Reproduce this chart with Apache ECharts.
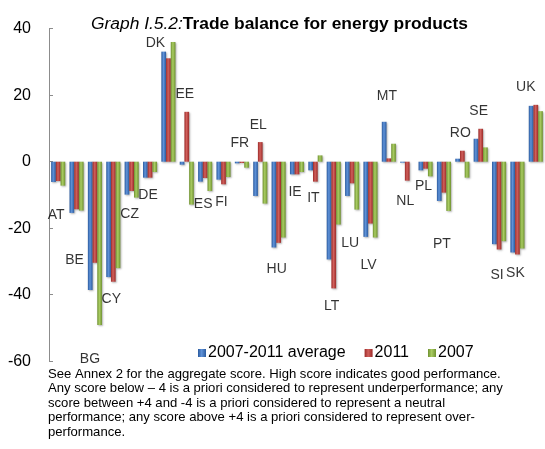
<!DOCTYPE html>
<html>
<head>
<meta charset="UTF-8">
<title>Trade balance for energy products</title>
<script src="https://cdn.jsdelivr.net/npm/echarts@6/dist/echarts.min.js"></script>
<style>
  html, body { margin: 0; padding: 0; background: #fff; }
  #chart { width: 545px; height: 449px; }
</style>
</head>
<body>
<div id="chart"></div>
<script>
// 国家 / country codes
const countries = ['AT', 'BE', 'BG', 'CY', 'CZ', 'DE', 'DK', 'EE', 'ES', 'FI', 'FR', 'EL', 'HU', 'IE',
  'IT', 'LT', 'LU', 'LV', 'MT', 'NL', 'PL', 'PT', 'RO', 'SE', 'SI', 'SK', 'UK'];

// series values
const avg0711 = [-6.1, -15.4, -38.6, -34.7, -9.9, -4.8, 33.1, -0.9, -6.0, -5.4, -0.5, -10.3, -25.8, -3.8,
  -2.6, -29.4, -10.3, -22.6, 12.0, -0.3, -2.6, -11.8, 0.9, 6.9, -24.8, -27.3, 16.8];
const y2011 = [-5.8, -14.3, -30.4, -36.1, -8.8, -4.8, 31.1, 15.0, -4.9, -6.8, -0.4, 5.9, -24.4, -3.8,
  -6.0, -38.1, -6.5, -18.6, 1.0, -5.7, -2.1, -9.3, 3.3, 9.9, -26.4, -27.9, 17.1];
const y2007 = [-7.2, -14.7, -49.1, -32.0, -10.8, -3.1, 36.0, -12.9, -8.8, -4.6, -1.8, -12.6, -22.8, -3.1,
  1.9, -18.9, -14.4, -22.8, 5.4, 0, -4.4, -14.8, -4.8, 4.3, -23.9, -26.1, 15.2];

// where each country label sits (value units on the y axis)
const labelAt = [-16.0, -29.6, -59.3, -41.3, -15.7, -10.2, 35.6, 20.4, -12.8, -12.3, 5.5, 11.0, -32.4, -9.3,
  -11.0, -43.4, -24.4, -31.1, 19.8, -12.0, -7.3, -24.8, 8.5, 15.2, -34.1, -33.4, 22.4];

const yTicks = [-60, -40, -20, 0, 20, 40];

const seriesNames = ['2007-2011 average', '2011', '2007'];

const note = [
  'See Annex 2 for the aggregate score. High score indicates good performance.',
  'Any score below \u2013 4 is a priori considered to represent underperformance; any',
  'score between +4 and -4 is a priori considered to represent a neutral',
  'performance; any score above +4 is a priori considered to represent over-',
  'performance.'
];

/**
 * 圆柱风格的渐变
 */
function shade(dark, light) {
  return new echarts.graphic.LinearGradient(0, 0, 1, 0, [
    { offset: 0, color: dark },
    { offset: 0.45, color: light },
    { offset: 1, color: dark }
  ]);
}

const palette = [
  shade('#2a5a9e', '#5f92d8'),
  shade('#9c2a28', '#d0605c'),
  shade('#6f9130', '#a9cc62')
];

// a few labels are nudged sideways in the original
const labelShift = { BG: -5, DK: -13, UK: -10 };

function barSeries(name, values, color) {
  return {
    name: name,
    type: 'bar',
    data: values,
    barWidth: 4.7,
    barGap: '0%',
    itemStyle: {
      color: color,
      shadowColor: 'rgba(0,0,0,0.3)',
      shadowBlur: 2,
      shadowOffsetX: 1,
      shadowOffsetY: 1
    }
  };
}

const chart = echarts.init(document.getElementById('chart'), null, { renderer: 'canvas' });

const option = {
  animation: false,
  backgroundColor: '#fff',
  title: {
    left: 86,
    top: 11,
    text: '{i|Graph I.5.2:}{b|Trade balance for energy products}',
    textStyle: {
      rich: {
        i: { fontFamily: 'Liberation Sans', fontStyle: 'italic', fontWeight: 'normal', fontSize: 17.4, color: '#000' },
        b: { fontFamily: 'Liberation Sans', fontWeight: 'bold', fontSize: 17.4, color: '#000' }
      }
    }
  },
  legend: {
    data: seriesNames,
    left: 193,
    top: 340,
    icon: 'rect',
    itemWidth: 8,
    itemHeight: 8,
    itemGap: 19,
    textStyle: { fontFamily: 'Liberation Sans', fontSize: 16, color: '#000', padding: [0, 0, 0, -3] }
  },
  grid: { left: 49, right: -6, top: 28.7, bottom: 87.8 },
  xAxis: {
    type: 'category',
    data: countries,
    axisLine: { show: false },
    axisTick: { show: false },
    axisLabel: { show: false }
  },
  yAxis: {
    type: 'value',
    min: yTicks[0],
    max: yTicks[yTicks.length - 1],
    interval: 20,
    splitLine: { show: false },
    axisLine: { show: true, lineStyle: { color: '#8c8c8c', width: 1 } },
    axisTick: { show: true, inside: true, length: 4, lineStyle: { color: '#8c8c8c' } },
    axisLabel: { fontFamily: 'Liberation Sans', fontSize: 16, color: '#000', margin: 18 }
  },
  series: [
    barSeries(seriesNames[0], avg0711, palette[0]),
    barSeries(seriesNames[1], y2011, palette[1]),
    barSeries(seriesNames[2], y2007, palette[2]),
    {
      name: 'labels',
      type: 'scatter',
      symbolSize: 0,
      clip: false,
      silent: true,
      z: 5,
      data: countries.map((c, i) => ({
        value: [i, labelAt[i]],
        label: { offset: [labelShift[c] || -2, 0] }
      })),
      label: {
        show: true,
        position: 'inside',
        formatter: p => countries[p.value[0]],
        fontFamily: 'Liberation Sans',
        fontSize: 14,
        color: '#000'
      }
    }
  ],
  graphic: note.map((line, i) => ({
    type: 'text',
    left: 48,
    top: 367.5 + i * 14.6,
    style: { text: line, fontFamily: 'Liberation Sans', fontSize: 13.1, fill: '#000' }
  }))
};

chart.setOption(option);
</script>
</body>
</html>
